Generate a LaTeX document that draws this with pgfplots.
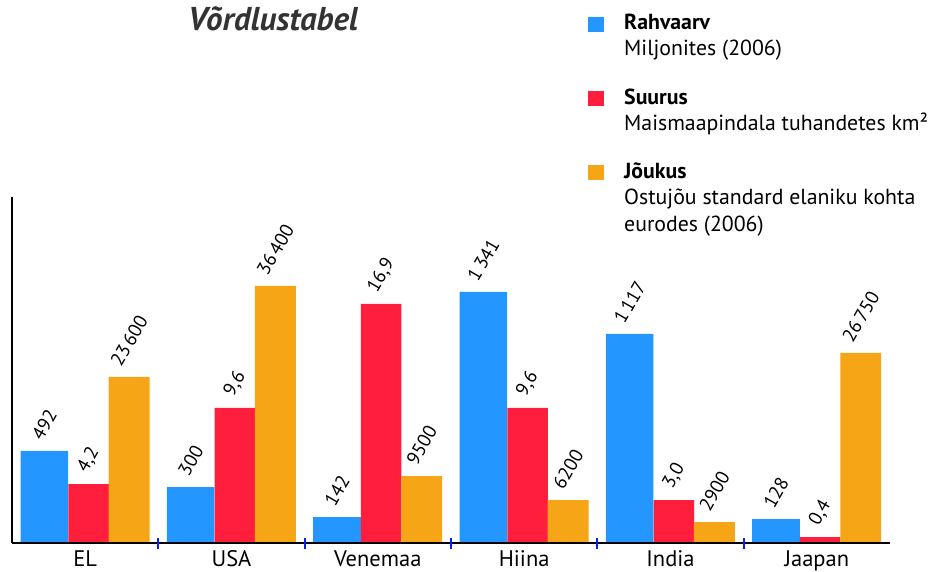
\documentclass[border=0pt]{standalone}
\usepackage{fontspec}
\setmainfont{PT Sans}
\usepackage{graphicx}
\usepackage{pgfplots}
\pgfplotsset{compat=1.18}
\definecolor{cblue}{RGB}{35,150,255}
\definecolor{cred}{RGB}{255,30,60}
\definecolor{corange}{RGB}{245,165,22}
\begin{document}
\begin{tikzpicture}
\path[use as bounding box] (0pt,0pt) rectangle (935pt,571pt);
\begin{axis}[
  at={(12pt,28pt)}, anchor=south west,
  scale only axis, width=878pt, height=346pt,
  xmin=-0.5, xmax=5.5, ymin=0, ymax=346,
  axis x line*=bottom, axis y line*=left,
  x axis line style={-, line width=2.5pt, black},
  y axis line style={-, line width=2pt, black},
  ytick=\empty,
  xtick={0,1,2,3,4,5},
  xticklabels={EL,USA,Venemaa,Hiina,India,Jaapan},
  major tick length=0pt,
  extra x ticks={0.5,1.5,2.5,3.5,4.5},
  extra x tick labels={},
  extra x tick style={major tick length=11pt, tick align=center, tick style={color=blue!80!cblue, line width=2pt}},
  axis on top,
  xticklabel style={font=\fontsize{22.5}{24}\selectfont, yshift=-4pt},
  clip=false,
  ybar,
  point meta=explicit symbolic,
  nodes near coords={\rotatebox{60}{\pgfplotspointmeta}},
  every node near coord/.append style={anchor=south, inner sep=0pt, yshift=9pt, font=\fontsize{19}{21}\selectfont, text=black},
]
\addplot[fill=cblue, draw=none, bar width=0.325, bar shift=-0.279] coordinates {
(0,92) [492] (1,56) [300] (2,26) [142] (3,251) [1\,341] (4,209) [1\,117] (5,24) [128]};
\addplot[fill=cred, draw=none, bar width=0.277, bar shift=0.023] coordinates {
(0,59) [{4,2}] (1,135) [{9,6}] (2,239) [{16,9}] (3,135) [{9,6}] (4,43) [{3,0}] (5,6) [{0,4}]};
\addplot[fill=corange, draw=none, bar width=0.28, bar shift=0.30] coordinates {
(0,166) [23\,600] (1,257) [36\,400] (2,67) [9500] (3,43) [6200] (4,21) [2900] (5,190) [26\,750]};
\end{axis}
\node[anchor=center, font=\fontsize{33}{36}\selectfont\bfseries\itshape, text=black!80] at (273pt,552pt) {Võrdlustabel};
\fill[cblue] (588pt,539pt) rectangle (604pt,554pt);
\fill[cred] (588pt,465pt) rectangle (604pt,480pt);
\fill[corange] (588pt,391pt) rectangle (604pt,406pt);
\begin{scope}[every node/.style={anchor=base west, inner sep=0pt, font=\fontsize{21.8}{23}\selectfont}]
\node[font=\fontsize{21.8}{23}\selectfont\bfseries] at (624pt,541pt) {Rahvaarv};
\node at (624pt,515pt) {Miljonites (2006)};
\node[font=\fontsize{21.8}{23}\selectfont\bfseries] at (624pt,466pt) {Suurus};
\node at (624pt,440pt) {Maismaapindala tuhandetes km²};
\node[font=\fontsize{21.8}{23}\selectfont\bfseries] at (624pt,392pt) {Jõukus};
\node at (624pt,366pt) {Ostujõu standard elaniku kohta};
\node at (624pt,339pt) {eurodes (2006)};
\end{scope}
\end{tikzpicture}
\end{document}
